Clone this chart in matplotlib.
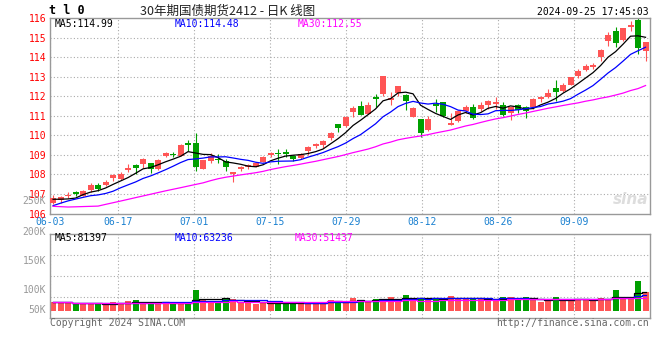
import numpy as np
import pandas as pd
import matplotlib
matplotlib.use('Agg')
import matplotlib.pyplot as plt

# trading sessions 2024-06-03 .. 2024-09-25 (exchange holidays removed)
holidays = ['2024-06-10', '2024-09-16', '2024-09-17']
dates = pd.bdate_range('2024-06-03', '2024-09-25')
dates = dates[~dates.isin(pd.to_datetime(holidays))]

opens = [106.56, 106.68, 106.89, 107.11, 106.92, 107.19, 107.45, 107.45, 107.84, 107.77,
         108.22, 108.47, 108.54, 108.58, 108.29, 108.97, 109.04, 108.96, 109.59, 109.61,
         108.28, 108.71, 108.81, 108.69, 108.00, 108.30, 108.37, 108.40, 108.66, 108.98,
         109.12, 109.17, 108.95, 108.84, 109.20, 109.44, 109.51, 109.85, 110.56, 110.46,
         111.18, 111.48, 111.09, 111.94, 112.10, 111.79, 112.17, 112.04, 110.94, 110.84,
         110.29, 111.60, 111.72, 110.55, 110.75, 111.25, 111.45, 111.34, 111.54, 111.59,
         111.56, 111.12, 111.54, 111.44, 111.46, 111.85, 111.97, 112.43, 112.26, 112.58,
         113.03, 113.35, 113.47, 114.00, 114.80, 115.34, 114.88, 115.54, 115.90, 114.32]
highs = [106.95, 106.90, 107.09, 107.16, 107.21, 107.57, 107.57, 107.71, 108.05, 108.13,
         108.54, 108.56, 108.82, 108.61, 108.80, 109.14, 109.15, 109.54, 109.76, 110.12,
         108.76, 109.10, 109.05, 108.81, 108.15, 108.43, 108.54, 108.60, 108.94, 109.17,
         109.29, 109.29, 109.01, 109.08, 109.44, 109.59, 109.75, 110.15, 110.56, 110.97,
         111.50, 111.76, 111.69, 112.13, 113.04, 112.20, 112.51, 112.14, 111.47, 110.84,
         111.01, 111.88, 111.72, 111.14, 111.30, 111.54, 111.59, 111.70, 111.83, 111.96,
         111.71, 111.46, 111.61, 111.48, 111.90, 112.00, 112.38, 112.82, 112.67, 112.99,
         113.37, 113.64, 113.72, 114.40, 115.27, 115.54, 115.51, 115.83, 115.99, 114.77]
lows = [106.50, 106.55, 106.82, 106.89, 106.89, 107.09, 107.13, 107.39, 107.66, 107.71,
        108.12, 108.05, 108.35, 108.08, 108.22, 108.87, 108.88, 108.94, 109.22, 108.18,
        108.26, 108.60, 108.60, 108.20, 107.63, 108.20, 108.27, 108.36, 108.63, 108.91,
        108.52, 108.91, 108.71, 108.79, 109.01, 109.37, 109.35, 109.78, 110.17, 110.44,
        110.94, 111.02, 111.07, 111.45, 112.03, 111.53, 112.00, 111.30, 110.93, 109.90,
        110.24, 111.20, 110.93, 110.55, 110.70, 111.16, 110.82, 111.24, 111.34, 111.34,
        110.99, 110.79, 111.13, 110.88, 111.36, 111.70, 111.90, 111.77, 112.21, 112.58,
        112.92, 113.30, 113.38, 113.81, 114.59, 114.51, 114.83, 115.34, 114.15, 113.80]
closes = [106.81, 106.87, 106.97, 107.02, 107.18, 107.45, 107.25, 107.64, 107.95, 108.05,
          108.32, 108.34, 108.78, 108.30, 108.73, 109.09, 109.02, 109.51, 109.49, 108.38,
          108.74, 108.96, 108.74, 108.40, 108.11, 108.40, 108.49, 108.57, 108.91, 109.12,
          109.07, 109.03, 108.79, 109.06, 109.41, 109.54, 109.71, 110.12, 110.38, 110.94,
          111.38, 111.04, 111.55, 111.84, 113.02, 111.93, 112.51, 111.74, 111.42, 110.11,
          110.84, 111.50, 110.97, 110.65, 111.25, 111.47, 110.87, 111.56, 111.77, 111.71,
          111.03, 111.46, 111.28, 111.22, 111.87, 111.95, 112.17, 112.21, 112.58, 112.99,
          113.30, 113.57, 113.60, 114.37, 115.14, 114.71, 115.48, 115.65, 114.46, 114.77]
# closes of the 29 sessions before 06-03, only used to seed the moving averages
pre_closes = [107.4, 107.5, 106.7, 106.8, 107.1, 106.9, 105.0, 105.4, 105.5, 105.7,
              105.7, 106.2, 105.7, 106.1, 106.5, 106.6, 107.1, 107.0, 105.9, 106.3,
              105.6, 105.8, 106.1, 106.3, 106.6, 106.85, 106.9, 106.8, 106.3]
volume_k = [34, 34, 34, 29.5, 27, 27, 27, 27, 35, 29.5,
            38.9, 42.9, 34.8, 34.8, 29.5, 34.8, 29.5, 34.8, 34.8, 83.2,
            47, 40.2, 36.2, 50.9, 47, 34.8, 34.8, 28.2, 32.2, 29.5,
            38.9, 29.5, 29.5, 29.5, 34.8, 34.8, 34.8, 43.2, 38.7, 32.4,
            51.3, 43.2, 38.7, 46.8, 46.8, 54.9, 43.2, 63, 51.3, 51.3,
            43.2, 51.3, 46.8, 59.4, 51.3, 46.8, 51.3, 46.8, 46.8, 43.2,
            54.9, 54.9, 43.2, 54.9, 43.2, 35.1, 43.2, 54.9, 38.7, 46.8,
            46.8, 43.2, 46.8, 51.3, 46.8, 82.8, 51.3, 51.3, 119.7, 74.7]

tick_labels = ['06-03', '06-17', '07-01', '07-15', '07-29', '08-12', '08-26', '09-09']
price_ma_text = ['MA5:114.99', 'MA10:114.48', 'MA30:112.55']
vol_ma_text = ['MA5:81397', 'MA10:63236', 'MA30:51437']
vol_labels = ['250K', '200K', '150K', '100K', '50K']

RED = '#ff5555'
GREEN = '#00a000'
MA_COLORS = ['black', '#0000ff', '#ff00ff']
GRID = '#aaaaaa'
MONO = 'DejaVu Sans Mono'
W, H = 660, 360


def px_rect(l, t, r, b):
    return [l / W, 1 - b / H, (r - l) / W, (b - t) / H]


def ftext(x, y, s, **kw):
    kw.setdefault('family', MONO)
    kw.setdefault('fontsize', 7)
    kw.setdefault('va', 'center')
    fig.text(x / W, 1 - y / H, s, **kw)


o = np.array(opens); h = np.array(highs); l = np.array(lows); c = np.array(closes)
n = len(c)
x = np.arange(n)
up = c >= o
colors = np.where(up, RED, GREEN)

all_closes = pd.Series(pre_closes + closes)
price_ma = [all_closes.rolling(k).mean().values[-n:] for k in (5, 10, 30)]
vol = pd.Series(volume_k)
vol_ma = [vol.rolling(k, min_periods=1).mean().values for k in (5, 10, 30)]

labels_str = [d.strftime('%m-%d') for d in dates]
tick_idx = np.array([labels_str.index(t) for t in tick_labels])
# sina's grid runs on a slightly wider pitch than the candles
grid_x = tick_idx * 7.6 / 7.5 - 0.41

fig = plt.figure(figsize=(W / 100, H / 100), dpi=100)
fig.set_facecolor('white')
ax = fig.add_axes(px_rect(50, 18, 649.5, 213.6))
ax2 = fig.add_axes(px_rect(50, 234.3, 649.5, 317.7))
xlim = (-0.4, 79.53)

# ---- price panel
ax.set_xlim(*xlim)
ax.set_ylim(106, 116)
for yv in range(107, 116):
    ax.axhline(yv, color=GRID, lw=0.8, ls=(0, (1, 2)), zorder=0)
for gx in grid_x:
    ax.axvline(gx, color=GRID, lw=0.8, ls=(0, (1, 2)), zorder=0)
ax.vlines(x, l, h, colors=colors, lw=0.8, zorder=2)
body = np.maximum(np.abs(c - o), 0.025)
ax.bar(x, body, bottom=np.minimum(o, c), width=0.8, color=colors, lw=0, zorder=3)
for ma, col in zip(price_ma, MA_COLORS):
    ax.plot(x, ma, color=col, lw=0.9, zorder=4)
ax.set_yticks(range(106, 117))
ax.set_yticklabels([str(v) for v in range(106, 117)], family=MONO, fontsize=7, color='red')
ax.set_xticks(grid_x)
ax.set_xticklabels(tick_labels, family=MONO, fontsize=7, color='#1a80d0')
ax.tick_params(length=0, pad=2.5)

# ---- volume panel
vlo, vhi = -28.2, 307
ax2.set_xlim(*xlim)
ax2.set_ylim(vlo, vhi)
for f in (0.25, 0.5, 0.75):
    ax2.axhline(vlo + (vhi - vlo) * f, color=GRID, lw=0.8, ls=(0, (1, 2)), zorder=0)
for gx in grid_x:
    ax2.axvline(gx, color=GRID, lw=0.8, ls=(0, (1, 2)), zorder=0)
ax2.bar(x, volume_k, width=0.8, color=colors, lw=0, zorder=2)
for ma, col in zip(vol_ma, MA_COLORS):
    ax2.plot(x, ma, color=col, lw=0.9, drawstyle='steps-mid', zorder=3)
ax2.set_xticks([])
ax2.set_yticks([])

for a in (ax, ax2):
    for sp in a.spines.values():
        sp.set_color('#999999')
        sp.set_linewidth(1.0)

# ---- texts
ftext(49, 11, 't l 0', fontsize=8.5, fontweight='bold')
ftext(140, 11, '30年期国债期货2412 - 日K 线图', family=['Noto Sans CJK SC', 'DejaVu Sans'],
      fontsize=9, color='#222222')
ftext(649, 12, '2024-09-25 17:45:03', ha='right')
for s, xp, col in zip(price_ma_text, (55, 175, 298), MA_COLORS):
    ftext(xp, 24, s, color=col)
for s, xp, col in zip(vol_ma_text, (55, 175, 295), MA_COLORS):
    ftext(xp, 238.3, s, color=col)
for s, yp in zip(vol_labels, (200.5, 231.5, 261, 290, 310)):
    ftext(46, yp, s, ha='right', color='#999999')
ftext(50, 323.5, 'Copyright 2024 SINA.COM', color='#666666')
ftext(649, 323.5, 'http://finance.sina.com.cn', ha='right', color='#666666')
ftext(648, 199, 'sina', family='DejaVu Sans', fontsize=11, fontweight='bold',
      style='italic', color='#dddddd', ha='right')

fig.savefig('out.png', dpi=100)
